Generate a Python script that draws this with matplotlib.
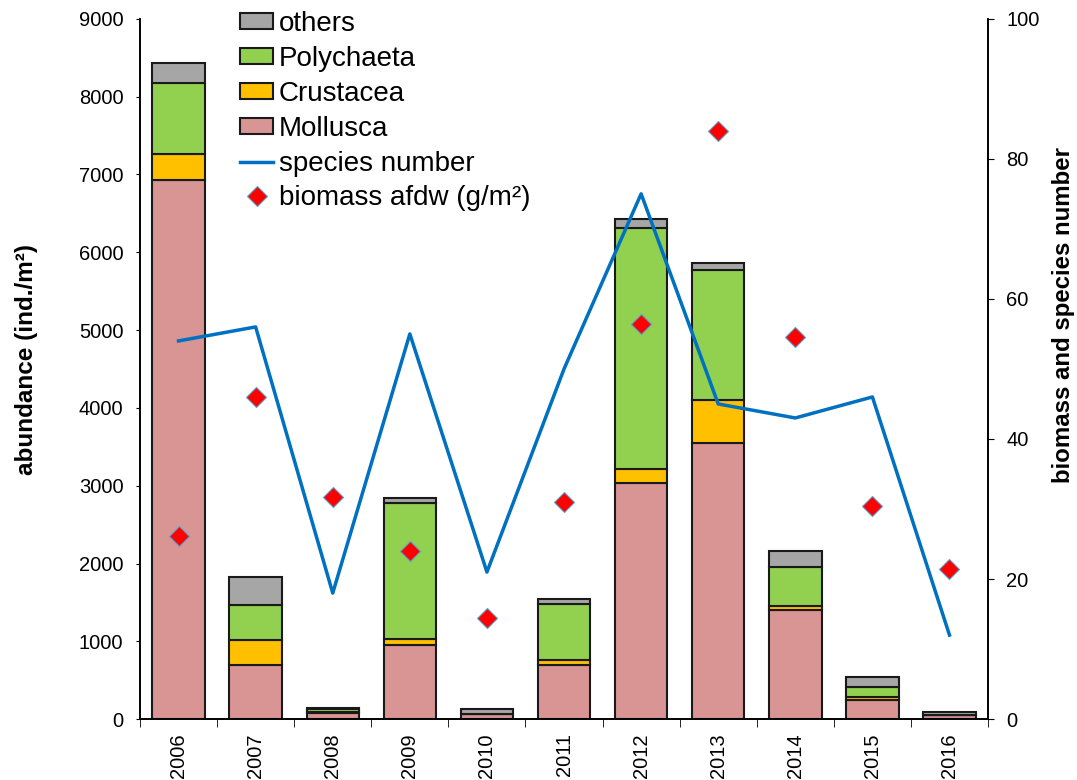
import matplotlib.pyplot as plt
import numpy as np

plt.rcParams['font.family'] = ['Liberation Sans', 'DejaVu Sans']

years = ['2006', '2007', '2008', '2009', '2010', '2011', '2012', '2013', '2014', '2015', '2016']
mollusca = [6930, 690, 85, 950, 60, 690, 3030, 3550, 1400, 245, 55]
crustacea = [335, 325, 5, 80, 0, 65, 180, 550, 50, 40, 0]
polychaeta = [910, 450, 40, 1750, 0, 730, 3100, 1670, 500, 130, 0]
others = [260, 360, 15, 60, 65, 65, 115, 90, 210, 130, 35]
species = [54, 56, 18, 55, 21, 50, 75, 45, 43, 46, 12]
biomass = [26.1, 46, 31.7, 24, 14.4, 31, 56.4, 83.9, 54.6, 30.4, 21.4]

x = np.arange(len(years))
fig = plt.figure(figsize=(10.77, 7.8), dpi=100)
ax1 = fig.add_axes([0.130, 0.078, 0.7874, 0.898])
ax2 = ax1.twinx()

w = 0.68
b1 = np.array(mollusca)
b2 = b1 + np.array(crustacea)
b3 = b2 + np.array(polychaeta)
kw = dict(width=w, edgecolor='#1a1a1a', linewidth=1.5)
p_mol = ax1.bar(x, mollusca, color='#D99594', label='Mollusca', **kw)
p_cru = ax1.bar(x, crustacea, bottom=b1, color='#FFC000', label='Crustacea', **kw)
p_pol = ax1.bar(x, polychaeta, bottom=b2, color='#92D050', label='Polychaeta', **kw)
p_oth = ax1.bar(x, others, bottom=b3, color='#A6A6A6', label='others', **kw)

l_sp, = ax2.plot(x, species, color='#0070C0', linewidth=2.5, label='species number')
l_bm, = ax2.plot(x, biomass, linestyle='none', marker='D', markersize=10,
                 markerfacecolor='red', markeredgecolor='#5aa0c8', markeredgewidth=0.8,
                 label='biomass afdw (g/m²)')

ax1.set_xlim(-0.5, len(years) - 0.5)
ax1.set_ylim(0, 9000)
ax1.set_yticks(range(0, 9001, 1000))
ax2.set_ylim(0, 100)
ax2.set_yticks(range(0, 101, 20))

ax1.set_xticks(x)
ax1.set_xticklabels(years, rotation=90, fontsize=14.5)
ax1.set_xticks(np.arange(-0.5, len(years), 1), minor=True)
ax1.tick_params(axis='x', which='major', length=0, pad=10)
ax1.tick_params(axis='x', which='minor', length=6, direction='out')
ax1.tick_params(axis='y', labelsize=14.5, length=3, pad=9, direction='out')
ax2.tick_params(axis='y', labelsize=14.5, length=4, pad=9, direction='out')

for ax in (ax1, ax2):
    ax.spines['top'].set_visible(False)
    for s in ax.spines.values():
        s.set_linewidth(1.2)

ax_w = 0.7874 * 1077
ax1.set_ylabel('abundance (ind./m²)', fontsize=17.5, fontweight='bold')
ax2.set_ylabel('biomass and species number', fontsize=17.3, fontweight='bold')
ax1.yaxis.set_label_coords((38 - 140) / ax_w, 0.513)
ax2.yaxis.set_label_coords((1052 - 140) / ax_w, 0.577)

handles = [p_oth, p_pol, p_cru, p_mol, l_sp, l_bm]
fig.legend(handles, [h.get_label() for h in handles], loc='upper left',
           bbox_to_anchor=(240 / 1077, 1 - 11 / 780), frameon=False, fontsize=20,
           borderpad=0, borderaxespad=0,
           handlelength=1.2, handleheight=0.54, handletextpad=0.2, labelspacing=0.32)

plt.savefig('out.png', dpi=100)
plt.close()
